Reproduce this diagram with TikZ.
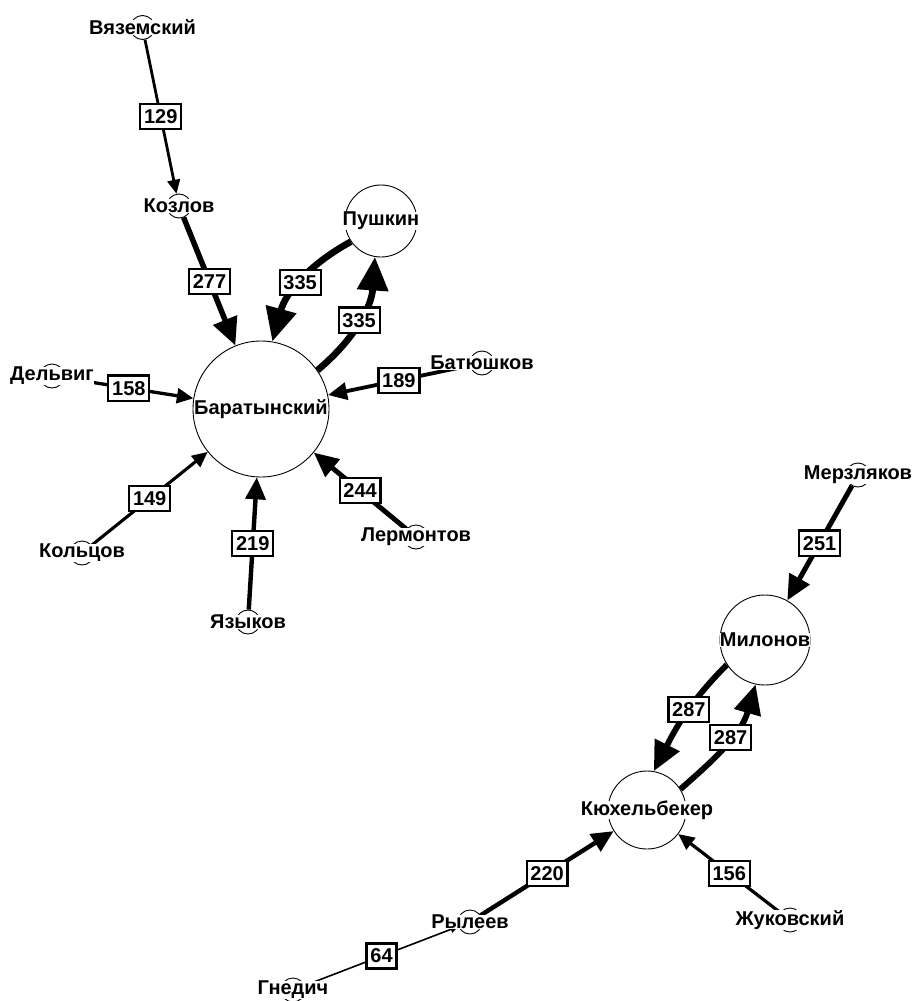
\documentclass[tikz,border=0pt]{standalone}
\usepackage{fontspec}
\setmainfont{Liberation Sans}
\usetikzlibrary{arrows.meta}
\tikzset{
  smallc/.style={circle, draw, line width=0.9pt, minimum size=24pt, inner sep=0pt},
  bigc/.style={circle, draw, line width=0.9pt, inner sep=0pt, minimum size=#1},
  nm/.style={fill=white, inner sep=0pt, font=\bfseries\fontsize{20}{20}\selectfont},
  wt/.style={draw, line width=2.2pt, fill=white, inner xsep=3.8pt, inner ysep=5.5pt, font=\bfseries\fontsize{20}{20}\selectfont},
  ed/.style={line width=#1, -{Triangle[length=0pt 5, width=0pt 4.5]}},
}
\begin{document}
\begin{tikzpicture}[x=1pt,y=1pt]
\useasboundingbox (0,0) rectangle (914,-1001);
% big nodes
\node[bigc=136pt] (B) at (261,-409) {};
\node[bigc=72pt] (P) at (381,-221) {};
\node[bigc=90pt] (M) at (765,-640) {};
\node[bigc=78pt] (K) at (647,-810) {};
% small nodes
\node[smallc] (V) at (142.5,-27.5) {};
\node[smallc] (Ko) at (179,-206) {};
\node[smallc] (D) at (52,-376) {};
\node[smallc] (Bt) at (482,-363) {};
\node[smallc] (Kl) at (82,-553) {};
\node[smallc] (Ya) at (248,-622) {};
\node[smallc] (L) at (416,-537) {};
\node[smallc] (Me) at (858,-475) {};
\node[smallc] (R) at (470,-922) {};
\node[smallc] (Zh) at (790,-920) {};
\node[smallc] (G) at (293,-990) {};
% edges
\draw[ed=2.8pt] (V) -- node[wt] {129} (Ko);
\draw[ed=5.5pt] (Ko) -- node[wt] {277} (B);
\draw[ed=6.7pt] (P) to[bend right=23] node[wt] {335} (B);
\draw[ed=6.7pt] (B) to[bend right=23] node[wt] {335} (P);
\draw[ed=3.8pt] (Bt) -- node[wt] {189} (B);
\draw[ed=3.3pt] (D) -- node[wt] {158} (B);
\draw[ed=3.1pt] (Kl) -- node[wt] {149} (B);
\draw[ed=4.4pt] (Ya) -- node[wt] {219} (B);
\draw[ed=4.9pt] (L) -- node[wt] {244} (B);
\draw[ed=5.0pt] (Me) -- node[wt] {251} (M);
\draw[ed=5.9pt] (M.213) to[out=225, in=63] node[wt, pos=0.45] {287} (K.80);
\draw[ed=5.9pt] (K.32) to[out=41, in=254] node[wt, pos=0.55] {287} (M.258);
\draw[ed=4.4pt] (R) -- node[wt] {220} (K);
\draw[ed=3.2pt] (Zh) -- node[wt] {156} (K);
\draw[ed=1.6pt] (G) -- node[wt] {64} (R);
% names
\node[nm] (tB) at (B) {Баратынский};
\node[nm] (tP) at (P) {Пушкин};
\node[nm] (tM) at (M) {Милонов};
\node[nm] (tK) at (K) {Кюхельбекер};
\node[nm] (tV) at (V) {Вяземский};
\node[nm] (tKo) at (Ko) {Козлов};
\node[nm] (tD) at (D) {Дельвиг};
\node[nm] (tBt) at (Bt) {Батюшков};
\node[nm] (tKl) at (Kl) {Кольцов};
\node[nm] (tYa) at (Ya) {Языков};
\node[nm] (tL) at (L) {Лермонтов};
\node[nm] (tMe) at (Me) {Мерзляков};
\node[nm] (tR) at (R) {Рылеев};
\node[nm] (tZh) at (Zh) {Жуковский};
\node[nm] (tG) at (G) {Гнедич};
\end{tikzpicture}
\end{document}
